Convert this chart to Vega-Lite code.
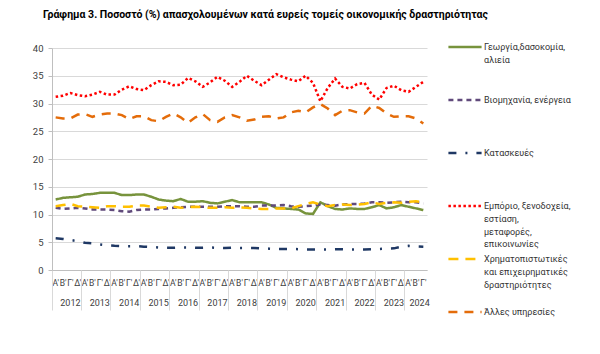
{
"$schema":"https://vega.github.io/schema/vega-lite/v6.json",
"width":375,"height":222,
"autosize":{"type":"none"},
"padding":{"left":52,"top":48,"right":173,"bottom":84},
"background":"white",
"title":{"text":"Γράφημα 3. Ποσοστό (%) απασχολουμένων κατά ευρείς τομείς οικονομικής δραστηριότητας","anchor":"start","frame":"group","dx":-9,"offset":22,"font":"Roboto","fontSize":10.5,"fontWeight":"bold","color":"#000000"},
"config":{"view":{"stroke":null},"font":"Roboto","style":{"guide-label":{"lineHeight":12.8}}},
"data":{"values":[
{"q":"2012-1","s":"g","v":12.7},{"q":"2012-2","s":"g","v":13.0},{"q":"2012-3","s":"g","v":13.1},{"q":"2012-4","s":"g","v":13.2},
{"q":"2013-1","s":"g","v":13.6},{"q":"2013-2","s":"g","v":13.7},{"q":"2013-3","s":"g","v":13.9},{"q":"2013-4","s":"g","v":13.9},
{"q":"2014-1","s":"g","v":13.9},{"q":"2014-2","s":"g","v":13.5},{"q":"2014-3","s":"g","v":13.5},{"q":"2014-4","s":"g","v":13.6},
{"q":"2015-1","s":"g","v":13.6},{"q":"2015-2","s":"g","v":13.2},{"q":"2015-3","s":"g","v":12.7},{"q":"2015-4","s":"g","v":12.5},
{"q":"2016-1","s":"g","v":12.4},{"q":"2016-2","s":"g","v":12.8},{"q":"2016-3","s":"g","v":12.3},{"q":"2016-4","s":"g","v":12.3},
{"q":"2017-1","s":"g","v":12.4},{"q":"2017-2","s":"g","v":12.1},{"q":"2017-3","s":"g","v":12.0},{"q":"2017-4","s":"g","v":12.3},
{"q":"2018-1","s":"g","v":12.6},{"q":"2018-2","s":"g","v":12.2},{"q":"2018-3","s":"g","v":12.2},{"q":"2018-4","s":"g","v":12.2},
{"q":"2019-1","s":"g","v":12.2},{"q":"2019-2","s":"g","v":11.8},{"q":"2019-3","s":"g","v":11.2},{"q":"2019-4","s":"g","v":11.1},
{"q":"2020-1","s":"g","v":11.0},{"q":"2020-2","s":"g","v":10.9},{"q":"2020-3","s":"g","v":10.2},{"q":"2020-4","s":"g","v":10.1},
{"q":"2021-1","s":"g","v":12.2},{"q":"2021-2","s":"g","v":11.5},{"q":"2021-3","s":"g","v":11.0},{"q":"2021-4","s":"g","v":10.9},
{"q":"2022-1","s":"g","v":11.1},{"q":"2022-2","s":"g","v":11.0},{"q":"2022-3","s":"g","v":11.0},{"q":"2022-4","s":"g","v":11.3},
{"q":"2023-1","s":"g","v":11.7},{"q":"2023-2","s":"g","v":11.1},{"q":"2023-3","s":"g","v":11.3},{"q":"2023-4","s":"g","v":11.7},
{"q":"2024-1","s":"g","v":11.4},{"q":"2024-2","s":"g","v":11.1},{"q":"2024-3","s":"g","v":10.8},
{"q":"2012-1","s":"b","v":11.2},{"q":"2012-2","s":"b","v":11.0},{"q":"2012-3","s":"b","v":11.1},{"q":"2012-4","s":"b","v":11.2},
{"q":"2013-1","s":"b","v":11.1},{"q":"2013-2","s":"b","v":10.9},{"q":"2013-3","s":"b","v":10.9},{"q":"2013-4","s":"b","v":10.9},
{"q":"2014-1","s":"b","v":10.8},{"q":"2014-2","s":"b","v":10.6},{"q":"2014-3","s":"b","v":10.5},{"q":"2014-4","s":"b","v":10.8},
{"q":"2015-1","s":"b","v":10.9},{"q":"2015-2","s":"b","v":10.9},{"q":"2015-3","s":"b","v":11.0},{"q":"2015-4","s":"b","v":11.1},
{"q":"2016-1","s":"b","v":11.2},{"q":"2016-2","s":"b","v":11.3},{"q":"2016-3","s":"b","v":11.4},{"q":"2016-4","s":"b","v":11.4},
{"q":"2017-1","s":"b","v":11.4},{"q":"2017-2","s":"b","v":11.4},{"q":"2017-3","s":"b","v":11.4},{"q":"2017-4","s":"b","v":11.5},
{"q":"2018-1","s":"b","v":11.5},{"q":"2018-2","s":"b","v":11.5},{"q":"2018-3","s":"b","v":11.4},{"q":"2018-4","s":"b","v":11.4},
{"q":"2019-1","s":"b","v":11.6},{"q":"2019-2","s":"b","v":11.6},{"q":"2019-3","s":"b","v":11.6},{"q":"2019-4","s":"b","v":11.7},
{"q":"2020-1","s":"b","v":11.5},{"q":"2020-2","s":"b","v":11.4},{"q":"2020-3","s":"b","v":11.5},{"q":"2020-4","s":"b","v":11.6},
{"q":"2021-1","s":"b","v":11.8},{"q":"2021-2","s":"b","v":11.7},{"q":"2021-3","s":"b","v":11.6},{"q":"2021-4","s":"b","v":11.8},
{"q":"2022-1","s":"b","v":11.9},{"q":"2022-2","s":"b","v":11.9},{"q":"2022-3","s":"b","v":12.0},{"q":"2022-4","s":"b","v":12.2},
{"q":"2023-1","s":"b","v":12.2},{"q":"2023-2","s":"b","v":12.1},{"q":"2023-3","s":"b","v":12.2},{"q":"2023-4","s":"b","v":12.3},
{"q":"2024-1","s":"b","v":12.2},{"q":"2024-2","s":"b","v":12.2},{"q":"2024-3","s":"b","v":12.0},
{"q":"2012-1","s":"k","v":5.7},{"q":"2012-2","s":"k","v":5.6},{"q":"2012-3","s":"k","v":5.4},{"q":"2012-4","s":"k","v":5.2},
{"q":"2013-1","s":"k","v":4.9},{"q":"2013-2","s":"k","v":4.8},{"q":"2013-3","s":"k","v":4.6},{"q":"2013-4","s":"k","v":4.45},
{"q":"2014-1","s":"k","v":4.35},{"q":"2014-2","s":"k","v":4.3},{"q":"2014-3","s":"k","v":4.3},{"q":"2014-4","s":"k","v":4.3},
{"q":"2015-1","s":"k","v":4.2},{"q":"2015-2","s":"k","v":4.15},{"q":"2015-3","s":"k","v":4.05},{"q":"2015-4","s":"k","v":4.0},
{"q":"2016-1","s":"k","v":4.0},{"q":"2016-2","s":"k","v":4.05},{"q":"2016-3","s":"k","v":4.05},{"q":"2016-4","s":"k","v":4.0},
{"q":"2017-1","s":"k","v":4.0},{"q":"2017-2","s":"k","v":4.05},{"q":"2017-3","s":"k","v":4.0},{"q":"2017-4","s":"k","v":3.95},
{"q":"2018-1","s":"k","v":4.0},{"q":"2018-2","s":"k","v":3.95},{"q":"2018-3","s":"k","v":3.95},{"q":"2018-4","s":"k","v":3.95},
{"q":"2019-1","s":"k","v":3.9},{"q":"2019-2","s":"k","v":3.85},{"q":"2019-3","s":"k","v":3.75},{"q":"2019-4","s":"k","v":3.8},
{"q":"2020-1","s":"k","v":3.8},{"q":"2020-2","s":"k","v":3.75},{"q":"2020-3","s":"k","v":3.7},{"q":"2020-4","s":"k","v":3.7},
{"q":"2021-1","s":"k","v":3.7},{"q":"2021-2","s":"k","v":3.7},{"q":"2021-3","s":"k","v":3.75},{"q":"2021-4","s":"k","v":3.75},
{"q":"2022-1","s":"k","v":3.7},{"q":"2022-2","s":"k","v":3.7},{"q":"2022-3","s":"k","v":3.7},{"q":"2022-4","s":"k","v":3.75},
{"q":"2023-1","s":"k","v":3.8},{"q":"2023-2","s":"k","v":3.85},{"q":"2023-3","s":"k","v":3.9},{"q":"2023-4","s":"k","v":4.2},
{"q":"2024-1","s":"k","v":4.35},{"q":"2024-2","s":"k","v":4.25},{"q":"2024-3","s":"k","v":4.2},
{"q":"2012-1","s":"e","v":31.2},{"q":"2012-2","s":"e","v":31.4},{"q":"2012-3","s":"e","v":31.9},{"q":"2012-4","s":"e","v":31.5},
{"q":"2013-1","s":"e","v":31.3},{"q":"2013-2","s":"e","v":31.6},{"q":"2013-3","s":"e","v":32.1},{"q":"2013-4","s":"e","v":31.6},
{"q":"2014-1","s":"e","v":31.6},{"q":"2014-2","s":"e","v":32.5},{"q":"2014-3","s":"e","v":33.1},{"q":"2014-4","s":"e","v":32.6},
{"q":"2015-1","s":"e","v":32.4},{"q":"2015-2","s":"e","v":33.3},{"q":"2015-3","s":"e","v":34.0},{"q":"2015-4","s":"e","v":33.9},
{"q":"2016-1","s":"e","v":33.3},{"q":"2016-2","s":"e","v":33.4},{"q":"2016-3","s":"e","v":34.6},{"q":"2016-4","s":"e","v":34.0},
{"q":"2017-1","s":"e","v":33.0},{"q":"2017-2","s":"e","v":33.8},{"q":"2017-3","s":"e","v":34.8},{"q":"2017-4","s":"e","v":34.1},
{"q":"2018-1","s":"e","v":33.0},{"q":"2018-2","s":"e","v":33.9},{"q":"2018-3","s":"e","v":35.0},{"q":"2018-4","s":"e","v":34.1},
{"q":"2019-1","s":"e","v":33.3},{"q":"2019-2","s":"e","v":34.3},{"q":"2019-3","s":"e","v":35.3},{"q":"2019-4","s":"e","v":34.7},
{"q":"2020-1","s":"e","v":34.3},{"q":"2020-2","s":"e","v":34.0},{"q":"2020-3","s":"e","v":35.0},{"q":"2020-4","s":"e","v":33.7},
{"q":"2021-1","s":"e","v":30.4},{"q":"2021-2","s":"e","v":32.8},{"q":"2021-3","s":"e","v":34.5},{"q":"2021-4","s":"e","v":33.0},
{"q":"2022-1","s":"e","v":32.7},{"q":"2022-2","s":"e","v":33.5},{"q":"2022-3","s":"e","v":33.7},{"q":"2022-4","s":"e","v":31.6},
{"q":"2023-1","s":"e","v":30.7},{"q":"2023-2","s":"e","v":32.8},{"q":"2023-3","s":"e","v":33.2},{"q":"2023-4","s":"e","v":32.4},
{"q":"2024-1","s":"e","v":32.1},{"q":"2024-2","s":"e","v":33.0},{"q":"2024-3","s":"e","v":33.9},
{"q":"2012-1","s":"x","v":11.5},{"q":"2012-2","s":"x","v":11.7},{"q":"2012-3","s":"x","v":11.9},{"q":"2012-4","s":"x","v":11.5},
{"q":"2013-1","s":"x","v":11.4},{"q":"2013-2","s":"x","v":11.3},{"q":"2013-3","s":"x","v":11.2},{"q":"2013-4","s":"x","v":11.5},
{"q":"2014-1","s":"x","v":11.5},{"q":"2014-2","s":"x","v":11.4},{"q":"2014-3","s":"x","v":11.4},{"q":"2014-4","s":"x","v":11.6},
{"q":"2015-1","s":"x","v":11.6},{"q":"2015-2","s":"x","v":11.4},{"q":"2015-3","s":"x","v":11.2},{"q":"2015-4","s":"x","v":11.3},
{"q":"2016-1","s":"x","v":11.4},{"q":"2016-2","s":"x","v":11.2},{"q":"2016-3","s":"x","v":11.3},{"q":"2016-4","s":"x","v":11.4},
{"q":"2017-1","s":"x","v":11.3},{"q":"2017-2","s":"x","v":11.2},{"q":"2017-3","s":"x","v":11.2},{"q":"2017-4","s":"x","v":11.3},
{"q":"2018-1","s":"x","v":11.2},{"q":"2018-2","s":"x","v":11.3},{"q":"2018-3","s":"x","v":11.2},{"q":"2018-4","s":"x","v":11.1},
{"q":"2019-1","s":"x","v":11.0},{"q":"2019-2","s":"x","v":11.0},{"q":"2019-3","s":"x","v":11.1},{"q":"2019-4","s":"x","v":11.1},
{"q":"2020-1","s":"x","v":11.1},{"q":"2020-2","s":"x","v":11.5},{"q":"2020-3","s":"x","v":11.9},{"q":"2020-4","s":"x","v":12.2},
{"q":"2021-1","s":"x","v":11.8},{"q":"2021-2","s":"x","v":11.5},{"q":"2021-3","s":"x","v":11.7},{"q":"2021-4","s":"x","v":11.8},
{"q":"2022-1","s":"x","v":11.7},{"q":"2022-2","s":"x","v":11.8},{"q":"2022-3","s":"x","v":11.9},{"q":"2022-4","s":"x","v":12.2},
{"q":"2023-1","s":"x","v":11.9},{"q":"2023-2","s":"x","v":12.1},{"q":"2023-3","s":"x","v":12.2},{"q":"2023-4","s":"x","v":12.1},
{"q":"2024-1","s":"x","v":12.3},{"q":"2024-2","s":"x","v":12.4},{"q":"2024-3","s":"x","v":12.2},
{"q":"2012-1","s":"a","v":27.5},{"q":"2012-2","s":"a","v":27.3},{"q":"2012-3","s":"a","v":27.3},{"q":"2012-4","s":"a","v":28.0},
{"q":"2013-1","s":"a","v":28.1},{"q":"2013-2","s":"a","v":27.6},{"q":"2013-3","s":"a","v":28.0},{"q":"2013-4","s":"a","v":28.2},
{"q":"2014-1","s":"a","v":28.2},{"q":"2014-2","s":"a","v":27.9},{"q":"2014-3","s":"a","v":27.2},{"q":"2014-4","s":"a","v":27.7},
{"q":"2015-1","s":"a","v":27.7},{"q":"2015-2","s":"a","v":27.0},{"q":"2015-3","s":"a","v":26.8},{"q":"2015-4","s":"a","v":27.6},
{"q":"2016-1","s":"a","v":28.2},{"q":"2016-2","s":"a","v":27.5},{"q":"2016-3","s":"a","v":26.5},{"q":"2016-4","s":"a","v":27.5},
{"q":"2017-1","s":"a","v":28.1},{"q":"2017-2","s":"a","v":27.0},{"q":"2017-3","s":"a","v":26.7},{"q":"2017-4","s":"a","v":27.5},
{"q":"2018-1","s":"a","v":27.9},{"q":"2018-2","s":"a","v":27.5},{"q":"2018-3","s":"a","v":26.9},{"q":"2018-4","s":"a","v":27.1},
{"q":"2019-1","s":"a","v":27.6},{"q":"2019-2","s":"a","v":27.7},{"q":"2019-3","s":"a","v":27.3},{"q":"2019-4","s":"a","v":27.5},
{"q":"2020-1","s":"a","v":28.4},{"q":"2020-2","s":"a","v":28.7},{"q":"2020-3","s":"a","v":28.4},{"q":"2020-4","s":"a","v":29.3},
{"q":"2021-1","s":"a","v":29.9},{"q":"2021-2","s":"a","v":29.1},{"q":"2021-3","s":"a","v":27.9},{"q":"2021-4","s":"a","v":28.7},
{"q":"2022-1","s":"a","v":28.8},{"q":"2022-2","s":"a","v":28.4},{"q":"2022-3","s":"a","v":28.2},{"q":"2022-4","s":"a","v":29.6},
{"q":"2023-1","s":"a","v":29.2},{"q":"2023-2","s":"a","v":28.2},{"q":"2023-3","s":"a","v":27.6},{"q":"2023-4","s":"a","v":27.7},
{"q":"2024-1","s":"a","v":27.7},{"q":"2024-2","s":"a","v":27.3},{"q":"2024-3","s":"a","v":26.4}
]},
"layer":[
{"mark":{"type":"line","strokeWidth":2.5},
 "encoding":{
  "x":{"field":"q","type":"ordinal","bandPosition":0.5,"scale":{"type":"band","paddingInner":0,"paddingOuter":0},
   "axis":{"title":null,"orient":"bottom","labelExpr":"[\"Α'\",\"Β'\",\"Γ'\",\"Δ'\"][toNumber(substring(datum.value,5))-1]","labelAngle":0,"labelFontSize":8.5,"labelColor":"#404040","labelPadding":8,"ticks":false,"tickSize":0,"domainColor":"#BFBFBF","grid":false,"labelOverlap":false,"labelBound":false,"labelFlush":false}},
  "y":{"field":"v","type":"quantitative","scale":{"domain":[0,40],"nice":false},
   "axis":{"title":null,"values":[0,5,10,15,20,25,30,35,40],"grid":true,"gridColor":"#D9D9D9","domainColor":"#BFBFBF","tickColor":"#BFBFBF","tickSize":4,"labelPadding":5,"labelFontSize":9.5,"labelColor":"#404040"}},
  "color":{"field":"s","type":"nominal","scale":{"domain":["g","b","k","e","x","a"],"range":["#77933C","#604A7B","#1F3864","#FF0000","#FFC000","#E46C0A"]},
   "legend":{"title":null,"orient":"none","legendX":395,"legendY":-6,"padding":0,"symbolType":"M-1,0H1","symbolSize":1100,"symbolStrokeWidth":2.5,"clipHeight":10,"labelFontSize":9,"labelColor":"#333333","labelLimit":200,"labelOffset":1,"rowPadding":4,"labelExpr":"datum.value=='g'?['Γεωργία,δασοκομία,','αλιεία',' ',' ']:datum.value=='b'?['Βιομηχανία, ενέργεια',' ',' ',' ']:datum.value=='k'?['Κατασκευές',' ',' ',' ']:datum.value=='e'?['Εμπόριο, ξενοδοχεία,','εστίαση,','μεταφορές,','επικοινωνίες']:datum.value=='x'?['Χρηματοπιστωτικές','και επιχειρηματικές','δραστηριότητες',' ']:['Άλλες υπηρεσίες',' ',' ',' ']"}},
  "strokeDash":{"field":"s","type":"nominal","scale":{"domain":["g","b","k","e","x","a"],"range":[[1,0],[5,4],[8,9,2,9],[2.5,2.5],[10,7],[9,7]]},
   "legend":{"title":null,"orient":"none","legendX":395,"legendY":-6,"padding":0,"symbolType":"M-1,0H1","symbolSize":1100,"symbolStrokeWidth":2.5,"clipHeight":10,"labelFontSize":9,"labelColor":"#333333","labelLimit":200,"labelOffset":1,"rowPadding":4,"labelExpr":"datum.value=='g'?['Γεωργία,δασοκομία,','αλιεία',' ',' ']:datum.value=='b'?['Βιομηχανία, ενέργεια',' ',' ',' ']:datum.value=='k'?['Κατασκευές',' ',' ',' ']:datum.value=='e'?['Εμπόριο, ξενοδοχεία,','εστίαση,','μεταφορές,','επικοινωνίες']:datum.value=='x'?['Χρηματοπιστωτικές','και επιχειρηματικές','δραστηριότητες',' ']:['Άλλες υπηρεσίες',' ',' ',' ']"}}
 }},
{"mark":{"type":"rule","opacity":0},
 "encoding":{
  "x":{"field":"q","type":"ordinal",
   "axis":{"title":null,"orient":"bottom","values":["2012-1","2013-1","2014-1","2015-1","2016-1","2017-1","2018-1","2019-1","2020-1","2021-1","2022-1","2023-1","2024-1"],"bandPosition":0,"labelExpr":"substring(datum.value,0,4)","labelOffset":{"condition":{"test":"datum.value=='2024-1'","value":11},"value":14.7},"labelAngle":0,"labelFontSize":9,"labelColor":"#404040","tickSize":40,"tickColor":"#D9D9D9","domain":false,"labelPadding":-12,"grid":false,"labelOverlap":false,"labelBound":false}}
 }}
],
"resolve":{"axis":{"x":"independent"}}
}
